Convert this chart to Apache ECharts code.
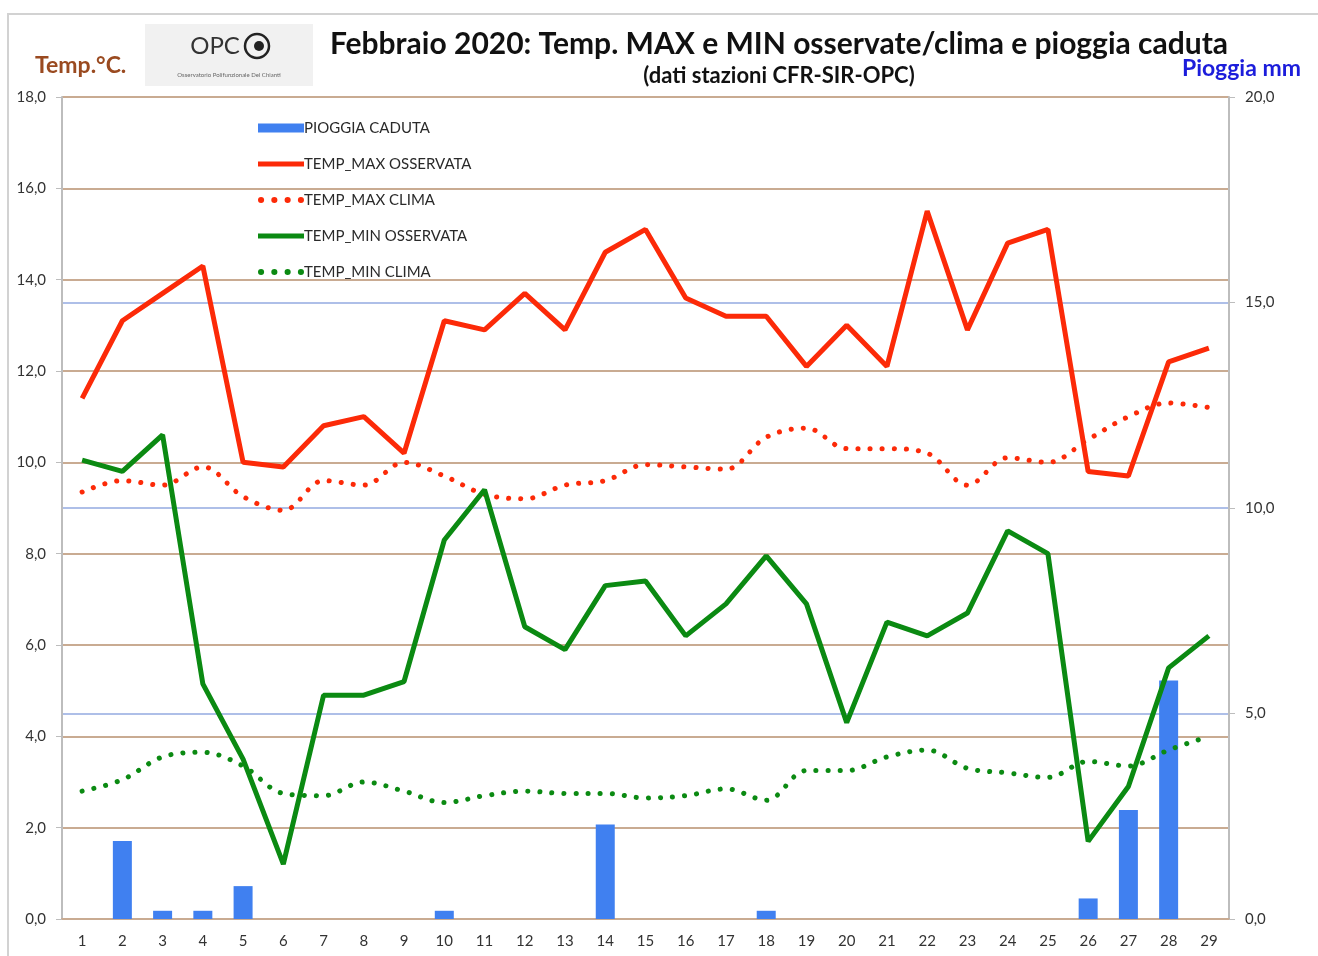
<!DOCTYPE html>
<html lang="it">
<head>
<meta charset="UTF-8">
<title>Febbraio 2020</title>
<style>html,body{margin:0;padding:0;background:#fff}</style>
</head>
<body>
<div class="main" style="width:1318px;height:956px"></div>
<script src="https://cdn.jsdelivr.net/npm/echarts@6/dist/echarts.min.js"></script>
<script>
    // giorni di febbraio 2020
    var giorni = ['1','2','3','4','5','6','7','8','9','10','11','12','13','14','15',
        '16','17','18','19','20','21','22','23','24','25','26','27','28','29'];

    // pioggia caduta (mm, asse destro)
    var pioggia = [0, 1.9, 0.2, 0.2, 0.8, 0, 0, 0, 0, 0.2, 0, 0, 0, 2.3, 0,
        0, 0, 0.2, 0, 0, 0, 0, 0, 0, 0, 0.5, 2.65, 5.8, 0];

    // temperature (°C, asse sinistro)
    var tmaxOss = [11.4, 13.1, 13.7, 14.3, 10.0, 9.9, 10.8, 11.0, 10.2, 13.1, 12.9, 13.7, 12.9, 14.6, 15.1,
        13.6, 13.2, 13.2, 12.1, 13.0, 12.1, 15.5, 12.9, 14.8, 15.1, 9.8, 9.7, 12.2, 12.5];
    var tmaxClima = [9.35, 9.6, 9.5, 9.9, 9.25, 8.95, 9.6, 9.5, 10.0, 9.7, 9.3, 9.2, 9.5, 9.6, 9.95,
        9.9, 9.85, 10.55, 10.75, 10.3, 10.3, 10.2, 9.5, 10.1, 10.0, 10.5, 11.0, 11.3, 11.2];
    var tminOss = [10.05, 9.8, 10.6, 5.15, 3.5, 1.2, 4.9, 4.9, 5.2, 8.3, 9.4, 6.4, 5.9, 7.3, 7.4,
        6.2, 6.9, 7.95, 6.9, 4.3, 6.5, 6.2, 6.7, 8.5, 8.0, 1.7, 2.9, 5.5, 6.2];
    var tminClima = [2.8, 3.05, 3.55, 3.65, 3.35, 2.75, 2.7, 3.0, 2.8, 2.55, 2.7, 2.8, 2.75, 2.75, 2.65,
        2.7, 2.85, 2.6, 3.25, 3.25, 3.55, 3.7, 3.3, 3.2, 3.1, 3.45, 3.35, 3.7, 4.0];

    var nomi = ['PIOGGIA CADUTA', 'TEMP_MAX OSSERVATA', 'TEMP_MAX CLIMA', 'TEMP_MIN OSSERVATA', 'TEMP_MIN CLIMA'];

    var FONT = 'Lato, "DejaVu Sans", sans-serif';
    var ROSSO = '#fc2a08';
    var VERDE = '#0b8a12';
    var BLU = '#4080f0';
    var MARRONE = '#c9ab92';

    // icone legenda: barra, linea piena, linea a puntini
    var ICONA_BARRA = 'path://M0,0H46V9H0Z';
    var ICONA_LINEA = 'path://M0,0H46V5H0Z';
    var ICONA_PUNTI = 'path://M0,3a3,3 0 1,0 6,0a3,3 0 1,0 -6,0Z' +
        'M13,3a3,3 0 1,0 6,0a3,3 0 1,0 -6,0Z' +
        'M26,3a3,3 0 1,0 6,0a3,3 0 1,0 -6,0Z' +
        'M39,3a3,3 0 1,0 6,0a3,3 0 1,0 -6,0Z';

    var virgola = function (v) {
        return v.toFixed(1).replace('.', ',');
    };

    var main = document.querySelector('.main');
    var chart = echarts.init(main);

    var option = {
        backgroundColor: '#ffffff',
        animation: false,
        textStyle: {fontFamily: FONT},
        grid: {left: 62, right: 89, top: 97, bottom: 37, containLabel: false},
        legend: {
            orient: 'vertical',
            left: 253,
            top: 114,
            itemWidth: 46,
            itemHeight: 9,
            itemGap: 18,
            symbolKeepAspect: true,
            textStyle: {fontFamily: FONT, fontSize: 15, color: '#2a2a2a', lineHeight: 18, padding: [0, 0, 0, -5]},
            data: [
                {name: nomi[0], icon: ICONA_BARRA},
                {name: nomi[1], icon: ICONA_LINEA},
                {name: nomi[2], icon: ICONA_PUNTI},
                {name: nomi[3], icon: ICONA_LINEA},
                {name: nomi[4], icon: ICONA_PUNTI}
            ]
        },
        xAxis: {
            type: 'category',
            data: giorni,
            axisLine: {lineStyle: {color: MARRONE, width: 2}},
            axisTick: {show: false},
            axisLabel: {color: '#333', fontSize: 15, margin: 15, fontFamily: FONT}
        },
        yAxis: [
            {
                type: 'value',
                min: 0, max: 18, interval: 2,
                axisLine: {show: true, lineStyle: {color: '#bdbdbd', width: 2}},
                axisTick: {show: true, length: 6, lineStyle: {color: '#bdbdbd'}},
                axisLabel: {color: '#333', fontSize: 15, margin: 16, formatter: virgola, fontFamily: FONT},
                splitLine: {lineStyle: {color: MARRONE, width: 2}}
            },
            {
                type: 'value',
                min: 0, max: 20, interval: 5,
                position: 'right',
                axisLine: {show: true, lineStyle: {color: '#bdbdbd', width: 2}},
                axisTick: {show: true, length: 6, lineStyle: {color: '#bdbdbd'}},
                axisLabel: {color: '#333', fontSize: 15, margin: 16, formatter: virgola, fontFamily: FONT},
                splitLine: {lineStyle: {color: ['transparent', '#aebfe8', '#aebfe8', '#aebfe8', 'transparent'], width: 2}}
            }
        ],
        series: [
            {
                name: nomi[0],
                type: 'bar',
                yAxisIndex: 1,
                barWidth: 19,
                itemStyle: {color: BLU},
                data: pioggia
            },
            {
                name: nomi[1],
                type: 'line',
                symbol: 'none',
                lineStyle: {color: ROSSO, width: 5},
                itemStyle: {color: ROSSO},
                data: tmaxOss
            },
            {
                name: nomi[2],
                type: 'line',
                symbol: 'none',
                smooth: 0.35,
                lineStyle: {color: ROSSO, width: 5, type: [0.1, 12], cap: 'round'},
                itemStyle: {color: ROSSO},
                data: tmaxClima
            },
            {
                name: nomi[3],
                type: 'line',
                symbol: 'none',
                lineStyle: {color: VERDE, width: 5},
                itemStyle: {color: VERDE},
                data: tminOss
            },
            {
                name: nomi[4],
                type: 'line',
                symbol: 'none',
                smooth: 0.35,
                lineStyle: {color: VERDE, width: 5, type: [0.1, 12], cap: 'round'},
                itemStyle: {color: VERDE},
                data: tminClima
            }
        ],
        graphic: [
            // cornice
            {type: 'rect', z: -10, shape: {x: 8, y: 14, width: 1330, height: 960},
                style: {fill: 'none', stroke: '#d2d2d2', lineWidth: 2}},
            // logo OPC
            {type: 'rect', shape: {x: 145, y: 24, width: 168, height: 62}, style: {fill: '#f1f1f1'}},
            {type: 'text', x: 215, y: 46, style: {text: 'OPC', fontSize: 24, fontFamily: FONT, fill: '#333', align: 'center', verticalAlign: 'middle'}},
            {type: 'circle', shape: {cx: 257, cy: 46, r: 12}, style: {fill: 'none', stroke: '#222', lineWidth: 2.5}},
            {type: 'circle', shape: {cx: 259, cy: 46, r: 5}, style: {fill: '#222'}},
            {type: 'text', x: 229, y: 75, style: {text: 'Osservatorio Polifunzionale Del Chianti', fontSize: 6, fontFamily: FONT, fill: '#666', align: 'center', verticalAlign: 'middle'}},
            // titoli
            {type: 'text', x: 779, y: 44, style: {text: 'Febbraio 2020: Temp. MAX e MIN osservate/clima e pioggia caduta', fontSize: 30, fontWeight: 'bold', fontFamily: FONT, fill: '#111', align: 'center', verticalAlign: 'middle'}},
            {type: 'text', x: 779, y: 76, style: {text: '(dati stazioni CFR-SIR-OPC)', fontSize: 22, fontWeight: 'bold', fontFamily: FONT, fill: '#111', align: 'center', verticalAlign: 'middle'}},
            {type: 'text', x: 35, y: 66, style: {text: 'Temp.°C.', fontSize: 23, fontWeight: 'bold', fontFamily: FONT, fill: '#9a4a20', align: 'left', verticalAlign: 'middle'}},
            {type: 'text', x: 1301, y: 69, style: {text: 'Pioggia mm', fontSize: 23, fontWeight: 'bold', fontFamily: FONT, fill: '#1c1ddb', align: 'right', verticalAlign: 'middle'}}
        ]
    };
    chart.setOption(option);
</script>
</body>
</html>
